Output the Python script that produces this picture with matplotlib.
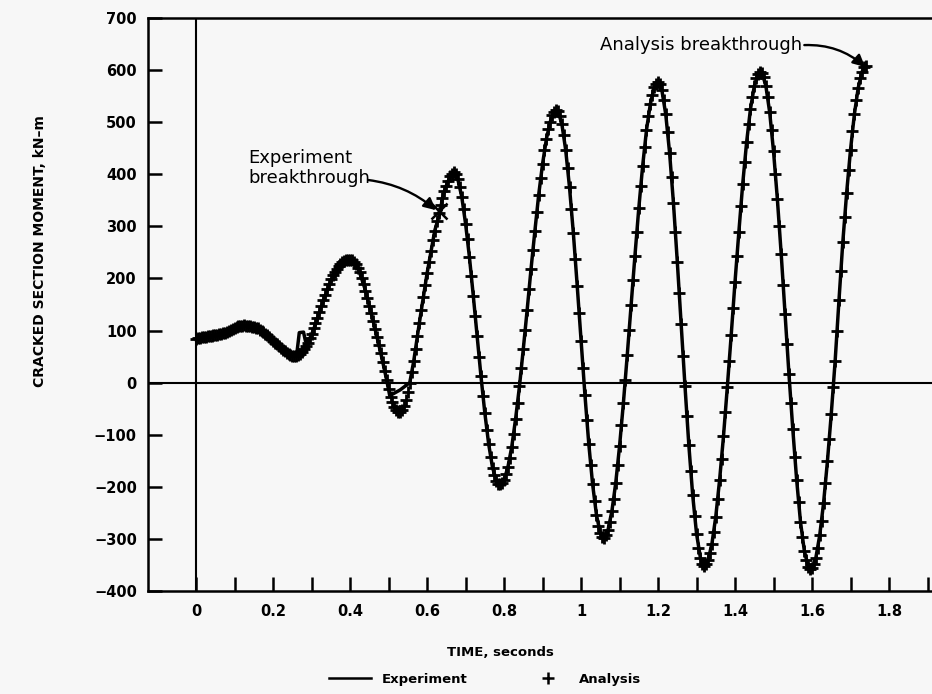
import numpy as np
import matplotlib
matplotlib.use("Agg")
import matplotlib.pyplot as plt
from matplotlib.lines import Line2D

plt.rcParams['font.family'] = ['DejaVu Sans']

# ---------------- data ----------------
analysis_dt = 0.005  # s, sampling of the analysis series (0 .. 1.74 s)
analysis_moment = [
    84, 85, 86, 87, 88, 88, 89, 90, 90, 91, 92, 92, 93, 94, 95, 96, 97, 99, 101, 103,
    105, 107, 108, 109, 109, 110, 109, 109, 108, 107, 106, 105, 104, 102, 100, 97, 94, 91, 87, 83,
    80, 77, 74, 70, 66, 63, 60, 57, 55, 53, 52, 52, 52, 53, 55, 59, 64, 70, 77, 85,
    94, 104, 114, 125, 136, 147, 158, 169, 179, 189, 198, 206, 213, 219, 224, 228, 231, 233, 235, 236,
    236, 235, 232, 227, 221, 212, 201, 189, 176, 162, 148, 133, 118, 103, 88, 72, 56, 40, 22, 5,
    -12, -27, -38, -47, -53, -57, -57, -53, -45, -33, -18, 0, 20, 42, 65, 90, 115, 140, 164, 188,
    210, 232, 253, 273, 292, 310, 326, 341, 355, 367, 378, 388, 396, 401, 404, 400, 390, 376, 357, 333,
    305, 275, 241, 205, 167, 128, 89, 50, 12, -25, -58, -90, -118, -142, -163, -178, -188, -194, -195, -193,
    -187, -176, -162, -145, -123, -98, -69, -40, -7, 28, 65, 102, 140, 180, 218, 255, 291, 328, 361, 392,
    420, 447, 468, 486, 501, 513, 520, 523, 521, 512, 497, 475, 447, 413, 375, 333, 287, 237, 186, 133,
    80, 29, -23, -71, -117, -159, -195, -228, -254, -275, -289, -296, -298, -293, -283, -267, -247, -224, -193, -159,
    -122, -82, -39, 6, 53, 101, 149, 197, 244, 290, 335, 377, 416, 453, 485, 512, 535, 553, 567, 574,
    577, 573, 561, 542, 515, 481, 441, 395, 345, 290, 232, 173, 112, 52, -7, -65, -120, -170, -216, -256,
    -290, -317, -336, -348, -352, -349, -341, -327, -309, -286, -257, -223, -186, -147, -103, -57, -8, 41, 91, 143,
    194, 243, 290, 339, 382, 423, 461, 496, 525, 549, 569, 584, 593, 597, 595, 586, 570, 548, 519, 485,
    444, 400, 352, 300, 246, 188, 131, 74, 17, -39, -89, -142, -186, -230, -267, -297, -323, -341, -353, -358,
    -356, -349, -336, -317, -293, -265, -231, -193, -151, -108, -60, -9, 41, 100, 158, 215, 270, 318, 365, 408,
    447, 483, 515, 543, 566, 584, 597, 605, 608,
]
analysis_time = np.round(np.arange(len(analysis_moment)) * analysis_dt, 3)

# experiment record up to the breakthrough (then it follows the analysis trace)
experiment_time_early = [0.00, 0.02, 0.04, 0.06, 0.08, 0.10, 0.12, 0.14, 0.16, 0.18, 0.20, 0.22,
                         0.24, 0.255, 0.262, 0.268, 0.279, 0.284, 0.29, 0.30, 0.31, 0.32, 0.33,
                         0.34, 0.35, 0.36, 0.37, 0.38, 0.39, 0.40, 0.42, 0.44, 0.46, 0.48, 0.495,
                         0.503, 0.53, 0.555, 0.565, 0.58, 0.60, 0.62, 0.634]
experiment_moment_early = [83, 87, 90, 93, 97, 104, 109, 108, 104, 95, 80, 65,
                           55, 51, 58, 96, 97, 80, 78, 92, 112, 134, 156,
                           176, 194, 210, 222, 230, 234, 236, 222, 177, 118, 56, 5,
                           -25, -14, 0, 40, 115, 210, 292, 328]
late_start = 128  # index of t = 0.64 s in the analysis record
experiment_time = list(experiment_time_early) + list(analysis_time[late_start::2])
experiment_moment = list(experiment_moment_early) + list(analysis_moment[late_start::2])

experiment_breakthrough = (0.631, 329)
analysis_breakthrough = (1.740, 608)

xtick_pos = [round(0.1 * i, 1) for i in range(0, 20)]
xtick_labels = ['0', '', '0.2', '', '0.4', '', '0.6', '', '0.8', '', '1', '',
                '1.2', '', '1.4', '', '1.6', '', '1.8', '']
ytick_pos = [-400, -300, -200, -100, 0, 100, 200, 300, 400, 500, 600, 700]

# ---------------- figure ----------------
W, H = 932, 694
bg = '#f7f7f7'
fig = plt.figure(figsize=(W / 100, H / 100), dpi=100, facecolor=bg)
ax = fig.add_axes([148 / W, 103 / H, (966 - 148) / W, 573 / H], facecolor=bg)
ax.set_xlim(-0.125, 2.0)
ax.set_ylim(-400, 700)

for s in ['left', 'bottom', 'top']:
    ax.spines[s].set_linewidth(1.8)
ax.spines['right'].set_visible(False)

ax.axhline(0, color='black', lw=1.5, zorder=1)
ax.axvline(0, color='black', lw=1.5, zorder=1)

ax.set_xticks(xtick_pos)
ax.set_xticklabels(xtick_labels)
ax.set_yticks(ytick_pos)
ax.set_yticklabels([f"{v:d}".replace('-', '\u2212') for v in ytick_pos])
ax.tick_params(axis='both', direction='in', length=10, width=1.8, labelsize=10.5, color='black')
ax.tick_params(axis='x', pad=9)
ax.tick_params(axis='y', pad=8)
for lbl in ax.get_xticklabels() + ax.get_yticklabels():
    lbl.set_fontweight('bold')

ax.plot(experiment_time, experiment_moment, color='black', lw=2.5, zorder=3)
ax.plot(analysis_time, analysis_moment, linestyle='none', marker='+', ms=9, mew=2.0,
        color='black', zorder=4)
ax.plot(*experiment_breakthrough, marker='x', ms=11, mew=1.8, color='black', zorder=5)

# annotations
ax.text(0.135, 412, 'Experiment\nbreakthrough', ha='left', va='center', fontsize=13,
        linespacing=1.15, color='black')
ax.annotate('', xy=(0.623, 331), xytext=(0.447, 389),
            arrowprops=dict(arrowstyle='-|>', color='black', lw=1.7, mutation_scale=18,
                            connectionstyle='arc3,rad=-0.15', shrinkA=0, shrinkB=0))
ax.text(1.575, 648, 'Analysis breakthrough', ha='right', va='center', fontsize=13, color='black')
ax.annotate('', xy=(1.738, 606), xytext=(1.58, 648),
            arrowprops=dict(arrowstyle='-|>', color='black', lw=1.7, mutation_scale=18,
                            connectionstyle='arc3,rad=-0.2', shrinkA=0, shrinkB=0))

# axis titles
fig.text(40 / W, 1 - 251 / H, 'CRACKED SECTION MOMENT, kN\u2013m', rotation=90,
         ha='center', va='center', fontsize=10, fontweight='bold')
fig.text(500 / W, 1 - 653 / H, 'TIME, seconds', ha='center', va='center',
         fontsize=9.5, fontweight='bold')

handles = [Line2D([], [], color='black', lw=1.8),
           Line2D([], [], color='black', linestyle='none', marker='+', ms=8, mew=1.8)]
fig.legend(handles, ['Experiment', 'Analysis'], loc='center',
           bbox_to_anchor=(485 / W, 1 - 679 / H), ncol=2, frameon=False,
           prop={'weight': 'bold', 'size': 9.5}, handlelength=3.2, columnspacing=4.5,
           handletextpad=0.8)

fig.savefig('out.png', dpi=100, facecolor=bg)
